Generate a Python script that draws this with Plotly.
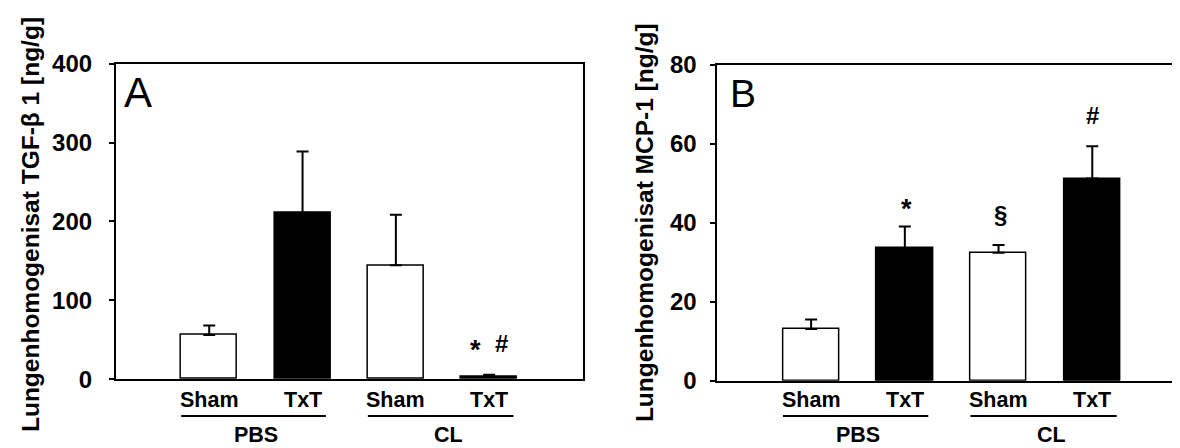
import plotly.graph_objects as go

# ---------------- data ----------------
categories = ["Sham", "TxT", "Sham", "TxT"]
groups = ["PBS", "CL"]
bar_colors = ["white", "black", "white", "black"]

tgf_values = [56, 211, 144.5, 3]
tgf_errors = [12, 77.5, 64, 2.5]

mcp_values = [13.1, 33.6, 32.4, 51.2]
mcp_errors = [2.4, 5.5, 2.0, 8.2]

tgf_ticks = [0, 100, 200, 300, 400]
mcp_ticks = [0, 20, 40, 60, 80]

# significance markers: (category position, y value, symbol)
tgf_marks = [(2.85, 37.5, "*"), (3.13, 44.7, "#")]
mcp_marks = [(1.02, 43.4, "*"), (2.02, 42.1, "§"), (3.0, 67.2, "#")]

ytitle_a = "Lungenhomogenisat TGF-β 1 [ng/g]"
ytitle_b = "Lungenhomogenisat MCP-1 [ng/g]"

FONT = "Liberation Sans, Arial, sans-serif"
W, H = 1180, 448

xpos = list(range(len(categories)))

fig = go.Figure()

def add_bars(values, errors, xa, ya):
    fig.add_trace(go.Bar(
        x=xpos, y=values, width=0.6,
        marker=dict(color=bar_colors, line=dict(color="black", width=1.5)),
        error_y=dict(type="data", array=errors, arrayminus=[0] * len(errors),
                     symmetric=False, color="black", thickness=2, width=6),
        xaxis=xa, yaxis=ya, showlegend=False, hoverinfo="skip",
    ))

add_bars(tgf_values, tgf_errors, "x", "y")
add_bars(mcp_values, mcp_errors, "x2", "y2")

xdom_a = [108 / W, 575 / W]
xdom_b = [710 / W, 1179 / W]
ydom_a = [1 - 380 / H, 1 - 44.3 / H]
ydom_b = [1 - 381.7 / H, 1 - 45.7 / H]

common_x = dict(range=[-1, 4], showgrid=False, zeroline=False, showline=True,
                linecolor="black", linewidth=2, mirror=True, ticks="",
                showticklabels=False, fixedrange=True)
common_y = dict(showgrid=False, zeroline=False, showline=True, linecolor="black",
                linewidth=2, mirror=True, ticks="outside", ticklen=5, tickwidth=2,
                tickcolor="black", tickfont=dict(family=FONT, size=24, color="black",
                                                 weight="bold"),
                fixedrange=True)

fig.update_layout(
    width=W, height=H,
    margin=dict(l=0, r=0, t=0, b=0),
    paper_bgcolor="white", plot_bgcolor="white",
    font=dict(family=FONT, color="black"),
    bargap=0,
    xaxis=dict(domain=xdom_a, anchor="y", **common_x),
    yaxis=dict(domain=ydom_a, anchor="x", range=[0, 400], tickvals=tgf_ticks,
               ticklabelstandoff=12, **common_y),
    xaxis2=dict(domain=xdom_b, anchor="y2", **common_x),
    yaxis2=dict(domain=ydom_b, anchor="x2", range=[0, 80], tickvals=mcp_ticks,
                ticklabelstandoff=9, **common_y),
)

annotations = []
shapes = []

def bold(size):
    return dict(family=FONT, size=size, color="black", weight="bold")

for xa, ymid_paper in (("x", 1 - 402 / H), ("x2", 1 - 402 / H)):
    for i, c in enumerate(categories):
        annotations.append(dict(x=i, y=ymid_paper, xref=xa, yref="paper", text=c,
                                showarrow=False, font=bold(21.5), yanchor="middle"))
    # group underlines and labels
    for g, (x0, x1, xc) in zip(groups, [(-0.3, 1.25, 0.5), (1.7, 3.26, 2.56)]):
        shapes.append(dict(type="line", xref=xa, yref="paper", x0=x0, x1=x1,
                           y0=1 - 419.3 / H, y1=1 - 419.3 / H,
                           line=dict(color="black", width=2)))
        annotations.append(dict(x=xc, y=1 - 440 / H, xref=xa, yref="paper", text=g,
                                showarrow=False, font=bold(21.5), yanchor="middle"))

for xa, ya, marks in (("x", "y", tgf_marks), ("x2", "y2", mcp_marks)):
    for mx, my, sym in marks:
        size = 27 if sym == "*" else 24
        annotations.append(dict(x=mx, y=my, xref=xa, yref=ya, text=sym,
                                showarrow=False, font=bold(size), yanchor="middle"))

# panel letters
annotations.append(dict(x=114 / W, y=1 - 74.7 / H, xref="paper", yref="paper", text="A",
                        showarrow=False, xanchor="left", yanchor="middle",
                        font=dict(family=FONT, size=42, color="black")))
annotations.append(dict(x=721 / W, y=1 - 75.8 / H, xref="paper", yref="paper", text="B",
                        showarrow=False, xanchor="left", yanchor="middle",
                        font=dict(family=FONT, size=39, color="black")))

# y-axis titles
annotations.append(dict(x=22 / W, y=1 - 215 / H, xref="paper", yref="paper",
                        text=ytitle_a, textangle=-90, showarrow=False,
                        xanchor="center", yanchor="middle", font=bold(24.5)))
annotations.append(dict(x=637 / W, y=1 - 213.5 / H, xref="paper", yref="paper",
                        text=ytitle_b, textangle=-90, showarrow=False,
                        xanchor="center", yanchor="middle", font=bold(24.5)))

fig.update_layout(annotations=annotations, shapes=shapes)

fig.write_html("out.html")
